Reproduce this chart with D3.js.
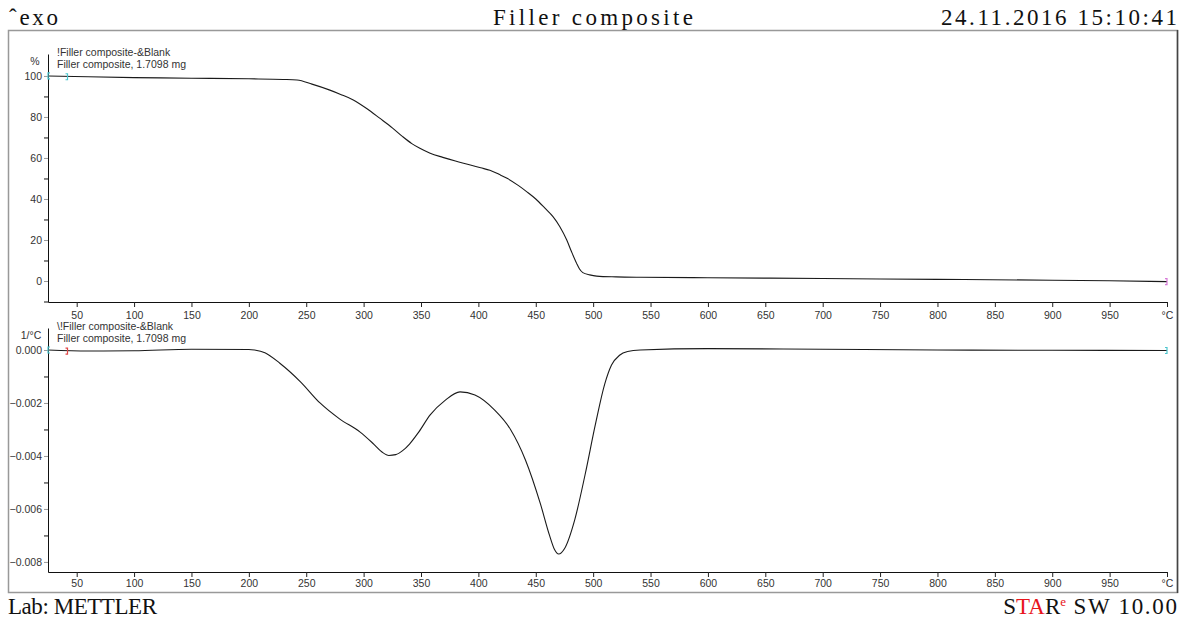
<!DOCTYPE html>
<html lang="en">
<head>
<meta charset="UTF-8">
<title>Filler composite</title>
<script src="https://d3js.org/d3.v7.min.js"></script>
<style>
  body { margin: 0; background: #fff; }
  .hdr { font-family: 'Liberation Serif', 'DejaVu Serif', serif; font-size: 23px; fill: #111; }
  .lbl { font-family: 'Liberation Sans', Arial, sans-serif; font-size: 10.5px; fill: #333; }
  .tick text { font-family: 'Liberation Sans', Arial, sans-serif; font-size: 10.5px; fill: #333; }
</style>
</head>
<body>
<svg id="chart" width="1194" height="622"></svg>
<script>
// TGA curve: temperature (°C) / mass (%)
const tgaTemp = [25, 60, 100, 150, 200, 230, 242, 255, 270, 280, 291, 303, 314, 325, 334, 342, 349, 358, 369, 380, 393, 402, 410, 418, 425, 435, 442, 450, 458, 465, 471, 477, 481, 485.6, 488, 491, 497, 503, 520, 541, 600, 700, 800, 900, 950, 1000];
const tgaMass = [100, 99.6, 99.2, 98.9, 98.6, 98.3, 98.0, 96.0, 93.2, 91.0, 88.3, 84.0, 79.4, 74.7, 70.4, 67.0, 64.7, 62.3, 60.3, 58.5, 56.6, 55.2, 54.0, 52.0, 50.1, 46.5, 43.6, 40.0, 35.5, 31.4, 26.5, 20, 14.5, 8.6, 6.0, 4.1, 3.0, 2.4, 2.0, 1.8, 1.6, 1.2, 0.8, 0.4, 0.1, -0.3];

// DTG curve: temperature (°C) / 1/°C
const dtgTemp = [25, 60, 100, 150, 200, 205, 214, 227, 245, 262, 279, 297, 308, 316, 322, 328, 334, 340, 348, 358, 371, 384, 397, 414, 428, 441, 454, 462, 466, 470, 475, 484, 493, 502, 510, 516, 523, 530, 541, 600, 700, 800, 900, 1000];
const dtgVal = [0, -0.00004, -0.00003, 0.00003, 0.00002, 0, -0.0001, -0.0005, -0.0012, -0.002, -0.0026, -0.0031, -0.00352, -0.00385, -0.00398, -0.00395, -0.0038, -0.00355, -0.0031, -0.00245, -0.0019, -0.00158, -0.0017, -0.00226, -0.003, -0.00415, -0.0058, -0.007, -0.0075, -0.0077, -0.0075, -0.0064, -0.0047, -0.0028, -0.0013, -0.00057, -0.0002, -0.00006, 0, 0.00005, 0.00003, 0, -0.00001, -0.00002];

const xMajor = d3.range(50, 1001, 50);
const xMinor = d3.range(30, 1000, 10);
const tgaMajor = [0, 20, 40, 60, 80, 100];
const tgaMinor = [-10, 10, 30, 50, 70, 90];
const dtgMajor = [0, -0.002, -0.004, -0.006, -0.008];
const dtgMinor = [-0.001, -0.003, -0.005, -0.007];

const svg = d3.select("#chart");

// outer frame
svg.append("rect").attr("x", 8.5).attr("y", 30.5).attr("width", 1169).attr("height", 562)
  .attr("fill", "none").attr("stroke", "#999").attr("stroke-width", 1.5);
svg.append("line").attr("x1", 1177.5).attr("x2", 1177.5).attr("y1", 30).attr("y2", 593)
  .attr("stroke", "#444").attr("stroke-width", 1.5);

// header / footer (fixed-pitch look via textLength)
function hdr(txt, xPos, yPos, anchor, len) {
  return svg.append("text").attr("class", "hdr").attr("x", xPos).attr("y", yPos)
    .attr("text-anchor", anchor).attr("textLength", len).attr("lengthAdjust", "spacing").text(txt);
}
hdr("ˆexo", 9, 25, "start", 49);
hdr("Filler composite", 593, 25, "middle", 200);
hdr("24.11.2016 15:10:41", 1177, 25, "end", 236);
hdr("Lab: METTLER", 8, 614, "start", 149);
const star = svg.append("text").attr("class", "hdr").attr("x", 1177).attr("y", 614).attr("text-anchor", "end");
star.append("tspan").text("S");
star.append("tspan").attr("fill", "#e8141b").text("TA");
star.append("tspan").text("R");
star.append("tspan").attr("fill", "#e8141b").attr("font-size", "13px").attr("dy", -8).text("e");
star.append("tspan").attr("dy", 8).attr("textLength", 111).attr("lengthAdjust", "spacing").text(" SW 10.00");

const x = d3.scaleLinear().domain([25, 1000]).range([48, 1167]);

function panel(cfg) {
  const y = d3.scaleLinear().domain(cfg.domain).range(cfg.range);
  const g = svg.append("g");

  // x axis
  const gx = g.append("g").attr("transform", `translate(0,${cfg.range[0]})`);
  gx.call(d3.axisBottom(x).tickValues(xMinor).tickSize(3).tickSizeOuter(0).tickFormat(""));
  gx.call(d3.axisBottom(x).tickValues(xMajor).tickSize(5).tickSizeOuter(0).tickPadding(cfg.xPad)
    .tickFormat(d => d === 1000 ? "°C" : d));
  gx.selectAll(".domain").attr("stroke", "#111");
  gx.selectAll(".tick line").attr("stroke", "#222");

  // y axis
  const gy = g.append("g").attr("transform", "translate(48,0)");
  gy.call(d3.axisLeft(y).tickValues(cfg.minor).tickSize(4).tickSizeOuter(0).tickFormat(""));
  gy.selectAll(".tick line").attr("stroke", "#111");
  const gy2 = gy.append("g");
  gy2.call(d3.axisLeft(y).tickValues(cfg.major).tickSize(4).tickSizeOuter(0).tickPadding(2).tickFormat(cfg.fmt));
  gy2.selectAll(".tick line").attr("stroke", "#999");
  gy.selectAll(".domain").attr("stroke", "#111");
  gy2.select(".domain").remove();

  // unit + legend
  g.append("text").attr("class", "lbl").attr("x", cfg.unitX).attr("y", cfg.range[1] + 11)
    .attr("text-anchor", "middle").text(cfg.unit);
  g.append("text").attr("class", "lbl").attr("x", 57).attr("y", cfg.range[1] + 2).text(cfg.title);
  g.append("text").attr("class", "lbl").attr("x", 57).attr("y", cfg.range[1] + 14).text("Filler composite, 1.7098 mg");

  // curve
  const pts = cfg.xs.map((t, i) => [t, cfg.ys[i]]);
  const line = d3.line().x(d => x(d[0])).y(d => y(d[1])).curve(d3.curveMonotoneX);
  g.append("path").datum(pts).attr("d", line).attr("fill", "none")
    .attr("stroke", "#1a1a1a").attr("stroke-width", 1.1);

  // evaluation limit brackets
  cfg.marks.forEach(m => {
    const mx = x(m.t), my = y(cfg.ys[m.i]);
    const s = m.open ? 1 : -1;
    g.append("path")
      .attr("d", `M${mx + 2 * s},${my - 3}L${mx},${my - 3}L${mx},${my + 3}L${mx + 2 * s},${my + 3}`)
      .attr("fill", "none").attr("stroke", m.c).attr("stroke-width", 1.2);
  });
}

panel({
  domain: [-10.24, 110.7], range: [302, 54], major: tgaMajor, minor: tgaMinor,
  fmt: d => d, unit: "%", unitX: 35, title: "!Filler composite-&Blank",
  xs: tgaTemp, ys: tgaMass, xPad: 5,
  marks: [{t: 25, i: 0, open: true, c: "#4cc6cf"}, {t: 42, i: 1, open: false, c: "#4cc6cf"},
          {t: 1000, i: tgaMass.length - 1, open: false, c: "#d77ad8"}]
});

panel({
  domain: [-0.00838, 0.00083], range: [572, 328], major: dtgMajor, minor: dtgMinor,
  fmt: d3.format(".3f"), unit: "1/°C", unitX: 31, title: "\\!Filler composite-&Blank",
  xs: dtgTemp, ys: dtgVal, xPad: 3,
  marks: [{t: 25, i: 0, open: true, c: "#4cc6cf"}, {t: 42, i: 1, open: false, c: "#e04848"},
          {t: 1000, i: dtgVal.length - 1, open: false, c: "#4cc6cf"}]
});
</script>
</body>
</html>
